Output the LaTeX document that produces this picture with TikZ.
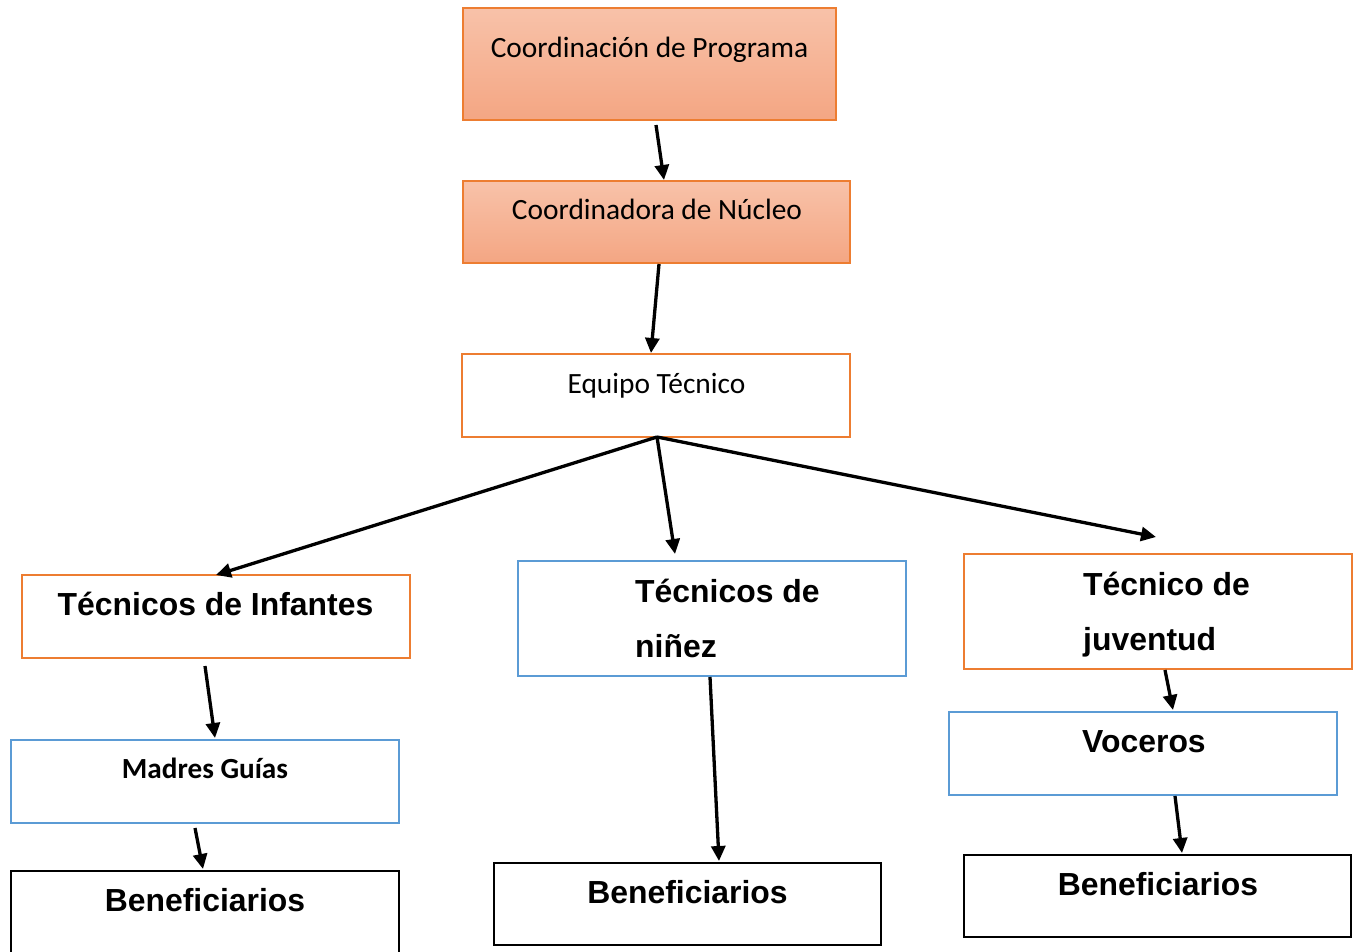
\documentclass[tikz,border=0pt]{standalone}
\usepackage{fontspec}
\setmainfont{Liberation Sans}
\newfontfamily\calfont{Carlito}
\usetikzlibrary{arrows.meta}
\definecolor{orng}{HTML}{ED7D31}
\definecolor{blu}{HTML}{5B9BD5}
\definecolor{gtop}{HTML}{F8C2A9}
\definecolor{gbot}{HTML}{F4A683}
\tikzset{
  box/.style={draw, rectangle, line width=2pt, inner sep=0pt, outer sep=0pt},
  obox/.style={box, draw=orng, fill=white},
  gbox/.style={box, draw=orng, top color=gtop, bottom color=gbot},
  bbox/.style={box, draw=blu, fill=white},
  kbox/.style={box, draw=black, line width=2.5pt, fill=white},
  ctext/.style={font=\calfont\fontsize{29.4}{35}\selectfont, inner sep=0pt, anchor=base},
  cbtext/.style={font=\calfont\bfseries\fontsize{29.2}{35}\selectfont, inner sep=0pt, anchor=base},
  atext/.style={font=\bfseries\fontsize{31.9}{38}\selectfont, inner sep=0pt, anchor=base},
  altext/.style={atext, anchor=base west},
  arr/.style={line width=3.3pt, -{Triangle[length=15pt,width=14pt]}},
}
\begin{document}
\begin{tikzpicture}[x=1pt,y=-1pt]
\useasboundingbox[fill=white] (0,0) rectangle (1356,952);
% boxes
\node[gbox, minimum width=373, minimum height=112] (cp) at (649.5,64) {};
\node[gbox, minimum width=387, minimum height=82] (cn) at (656.5,222) {};
\node[obox, minimum width=388, minimum height=83] (et) at (656,395.5) {};
\node[obox, minimum width=388, minimum height=83] (ti) at (216,616.5) {};
\node[bbox, minimum width=388, minimum height=115] (tn) at (712,618.5) {};
\node[obox, minimum width=388, minimum height=115] (tj) at (1158,611.5) {};
\node[bbox, minimum width=388, minimum height=83] (mg) at (205,781.5) {};
\node[bbox, minimum width=388, minimum height=83] (vo) at (1143,753.5) {};
\node[kbox, minimum width=388, minimum height=84] (b1) at (205,913) {};
\node[kbox, minimum width=387, minimum height=82] (b2) at (687.5,904) {};
\node[kbox, minimum width=387, minimum height=82] (b3) at (1157.5,896) {};
% texts
\node[ctext] (t1) at (649.5,58) {Coordinación de Programa};
\node[ctext] (t2) at (657,219) {Coordinadora de Núcleo};
\node[ctext] (t3) at (656.5,393) {Equipo Técnico};
\node[atext] (t4) at (215.5,615) {Técnicos de Infantes};
\node[altext] (t5a) at (635,602) {Técnicos de};
\node[altext] (t5b) at (635,657) {niñez};
\node[altext] (t6a) at (1083,595) {Técnico de};
\node[altext] (t6b) at (1083,650) {juventud};
\node[cbtext] (t7) at (205,778) {Madres Guías};
\node[altext] (t8) at (1082,752) {Voceros};
\node[atext] (t9) at (205,911) {Beneficiarios};
\node[atext] (t10) at (687.5,903) {Beneficiarios};
\node[atext] (t11) at (1158,895) {Beneficiarios};
% connectors
\draw[arr] ([xshift=6.5pt,yshift=-5pt]cp.south) -- ([xshift=7.5pt,yshift=1pt]cn.north);
\draw[arr] ([xshift=2.5pt,yshift=-1pt]cn.south) -- ([xshift=-5pt,yshift=1pt]et.north);
\draw[arr] ([xshift=1pt]et.south) -- (ti.north);
\draw[arr] ([xshift=1pt]et.south) -- ([xshift=-37pt,yshift=7pt]tn.north);
\draw[arr] ([xshift=1pt]et.south) -- ([xshift=-2pt,yshift=17pt]tj.north);
\draw[arr] ([xshift=-11pt,yshift=-8pt]ti.south) -- ([xshift=10pt,yshift=2pt]mg.north);
\draw[arr] ([xshift=-10pt,yshift=-5pt]mg.south) -- ([xshift=-2pt,yshift=2pt]b1.north);
\draw[arr] ([xshift=-2pt,yshift=-1pt]tn.south) -- ([xshift=31.5pt,yshift=2pt]b2.north);
\draw[arr] ([xshift=7pt,yshift=-1pt]tj.south) -- ([xshift=30pt,yshift=2pt]vo.north);
\draw[arr] ([xshift=32pt,yshift=-1pt]vo.south) -- ([xshift=24.5pt,yshift=2pt]b3.north);
\end{tikzpicture}
\end{document}
